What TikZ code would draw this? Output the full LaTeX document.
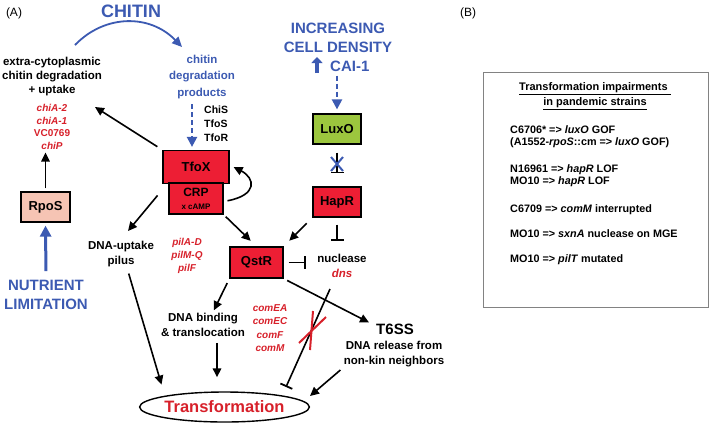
\documentclass[tikz,border=0pt]{standalone}
\usepackage{fontspec}
\setmainfont{Liberation Sans}
\usetikzlibrary{arrows.meta,shapes.geometric}
\definecolor{boxred}{RGB}{237,30,52}
\definecolor{genered}{RGB}{215,32,42}
\definecolor{myblue}{RGB}{60,90,178}
\definecolor{luxgreen}{RGB}{156,198,62}
\definecolor{rposfill}{RGB}{246,196,180}
\definecolor{boxgray}{RGB}{130,130,130}
\begin{document}
\begin{tikzpicture}[x=1pt,y=-1pt,
  prot/.style={draw=black, line width=1.2pt, inner sep=0pt, font=\bfseries\fontsize{13}{15}\selectfont},
  redbox/.style={prot, fill=boxred},
  lbl/.style={font=\bfseries\fontsize{11.5}{14.5}\selectfont, align=center, inner sep=1pt},
  genes/.style={font=\bfseries\itshape\fontsize{10}{13}\selectfont, text=genered, align=center, inner sep=1pt},
  bluelbl/.style={font=\bfseries\fontsize{15}{19}\selectfont, text=myblue, align=center, inner sep=1pt},
  arr/.style={draw=black, line width=1.6pt, -{Triangle[length=9pt,width=8.5pt]}},
  inh/.style={draw=black, line width=1.6pt, -{Bar[width=13pt,line width=1.8pt]}},
  bluearr/.style={draw=myblue, line width=1.8pt, -{Triangle[length=10pt,width=9pt]}},
  bluedash/.style={draw=myblue, line width=2.2pt, dash pattern=on 5pt off 3pt, -{Triangle[length=10pt,width=10pt]}},
  bigblue/.style={draw=myblue, line width=3pt, -{Triangle[length=11pt,width=11pt]}},
  redx/.style={draw=genered, line width=2pt},
  bluex/.style={draw=myblue, line width=2pt}
]
\useasboundingbox (0,0) rectangle (709,424);

% ---------- Panel A ----------
\node[font=\fontsize{12}{14}\selectfont, inner sep=1pt] (lblA) at (14,13) {(A)};
\node[bluelbl, font=\bfseries\fontsize{18}{20}\selectfont] (chitin) at (131,11) {CHITIN};

\node[lbl, font=\bfseries\fontsize{11.5}{14}\selectfont] (ecd) at (52,77) {extra-cytoplasmic\\chitin degradation\\+ uptake};
\node[genes, font=\bfseries\itshape\fontsize{10}{12.5}\selectfont] (chig) at (52,127) {chiA-2\\chiA-1\\{\upshape VC0769}\\chiP};

\node[lbl, text=myblue, font=\bfseries\fontsize{11.5}{16.5}\selectfont] (cdp) at (202,77) {chitin\\degradation\\products};
\node[lbl, anchor=west, align=left, font=\bfseries\fontsize{10.5}{14}\selectfont] (tfs) at (203,124) {ChiS\\TfoS\\TfoR};

\node[redbox, minimum width=66pt, minimum height=33pt] (tfox) at (196,167) {TfoX};
\node[redbox, minimum width=54pt, minimum height=31pt, align=center, font=\bfseries\fontsize{12}{13}\selectfont] (crp) at (196,198.5) {CRP\\{\fontsize{8}{10}\selectfont x cAMP}};

\node[prot, fill=rposfill, minimum width=49pt, minimum height=30pt] (rpos) at (45.5,207) {RpoS};
\node[bluelbl] (nutr) at (46,295) {NUTRIENT\\LIMITATION};

\node[bluelbl] (icd) at (338,38) {INCREASING\\CELL DENSITY};
\node[bluelbl, anchor=west] (cai) at (329,66) {CAI-1};
\coordinate (upA) at (317,73);
\coordinate (upB) at (317,57);
\draw[myblue, line width=4.5pt, -{Triangle[length=6pt,width=11pt]}] (upA) -- (upB);

\node[prot, fill=luxgreen, minimum width=48pt, minimum height=30pt] (luxo) at (337,129) {LuxO};
\node[redbox, minimum width=48pt, minimum height=30pt] (hapr) at (337,202) {HapR};
\node[redbox, minimum width=53pt, minimum height=31pt] (qstr) at (256.5,262.5) {QstR};

\node[lbl] (pilus) at (121,254) {DNA-uptake\\pilus};
\node[genes] (pilg) at (187,256) {pilA-D\\pilM-Q\\pilF};

\node[lbl, font=\bfseries\fontsize{11.5}{15}\selectfont] (dnab) at (203,325) {DNA binding\\\& translocation};
\node[genes, font=\bfseries\itshape\fontsize{10}{13.5}\selectfont] (comg) at (270,328) {comEA\\comEC\\comF\\comM};

\node[lbl, font=\bfseries\fontsize{11.5}{15}\selectfont] (nuc) at (342,266) {nuclease\\{\color{genered}\itshape dns}};

\node[lbl, font=\bfseries\fontsize{15}{17}\selectfont] (t6ss) at (395,329) {T6SS};
\node[lbl, font=\bfseries\fontsize{11.5}{15}\selectfont] (t6d) at (394,354) {DNA release from\\non-kin neighbors};

\node[ellipse, draw=black, line width=1.4pt, minimum width=163pt, minimum height=30pt, inner sep=0pt, text=genered, font=\bfseries\fontsize{16.5}{18}\selectfont] (trans) at (224.5,407) {Transformation};

% connectors
\coordinate (cs) at (75,45);
\coordinate (ce) at (182,47);
\draw[bluearr] (cs) .. controls (105,14) and (150,14) .. (ce);

\coordinate (ecdin) at (95,107);
\draw[arr, shorten <=6] (tfox.north west) -- (ecdin);
\draw[arr, shorten <=3, shorten >=2] (rpos.north) -- (rpos.north |- chig.south);
\draw[bigblue, shorten <=8, shorten >=3] (nutr.north) -- (rpos.south);
\draw[bluedash, shorten <=4, shorten >=3] ([xshift=-10pt]cdp.south) -- ([xshift=-4pt]tfox.north);
\draw[bluedash, shorten <=3, shorten >=4] (luxo.north |- cai.south) -- (luxo.north);

\draw[inh, shorten <=8, shorten >=13] (luxo.south) -- (hapr.north);
\coordinate (bx) at (337,164);
\draw[bluex] ([shift={(-6,-7)}]bx) -- ([shift={(6,7)}]bx);
\draw[bluex] ([shift={(-6,7)}]bx) -- ([shift={(6,-7)}]bx);

\draw[arr, shorten <=8, shorten >=8] (hapr.south west) -- (qstr.north east);
\draw[arr, shorten <=3, shorten >=8] (crp.south east) -- (qstr.north);
\draw[arr, shorten <=4] ([yshift=-3pt]crp.east) .. controls (258,195) and (255,178) .. ([xshift=4pt]tfox.east);

\coordinate (pilin) at (128,231);
\draw[arr, shorten <=17] (crp.north west) -- (pilin);
\draw[arr, shorten <=6, shorten >=7] ([xshift=6pt]pilus.south) -- ([xshift=-61pt]trans.north);

\draw[inh, shorten <=7, shorten >=12] (hapr.south) -- (hapr.south |- nuc.north);
\draw[inh, shorten <=5, shorten >=10] (qstr.east) -- (qstr.east -| nuc.west);

\draw[arr, shorten <=4] (qstr.south east) -- ([xshift=-6pt]t6ss.north west);
\draw[arr, shorten <=5, shorten >=2] (qstr.south west) -- ([xshift=10pt]dnab.north);
\coordinate (db) at ([xshift=14pt]dnab.south);
\draw[arr, shorten <=5, shorten >=14] (db) -- (db |- trans.north);

\coordinate (ns) at (330,289);
\coordinate (ne) at (286,387);
\draw[inh] (ns) -- (ne);
\coordinate (rx) at (312,330);
\draw[redx] ([shift={(1,-19)}]rx) -- ([shift={(-2,20)}]rx);
\draw[redx] ([shift={(-13,13)}]rx) -- ([shift={(14,-13)}]rx);

\coordinate (t6tip) at (310,396);
\draw[arr, shorten <=3] (t6d.south west) -- (t6tip);

% ---------- Panel B ----------
\node[font=\fontsize{12}{14}\selectfont, inner sep=1pt] (lblB) at (468,13) {(B)};
\node[draw=boxgray, line width=0.8pt, minimum width=225pt, minimum height=235pt, inner sep=0pt] (boxB) at (595.5,189.5) {};
\node[font=\bfseries\fontsize{11}{15}\selectfont, align=center, inner sep=1pt] (btitle) at (595,96) {\underline{Transformation impairments\ }\\\underline{in pandemic strains}};
\node[anchor=north west, align=left, inner sep=0pt, font=\bfseries\fontsize{10.8}{12.8}\selectfont] (blist) at (510,125) {C6706* => \textit{luxO} GOF\\(A1552-\textit{rpoS}::cm => \textit{luxO} GOF)\\[13.5pt]N16961 => \textit{hapR} LOF\\MO10 => \textit{hapR} LOF\\[14.5pt]C6709 => \textit{comM} interrupted\\[12.5pt]MO10 => \textit{sxnA} nuclease on MGE\\[12.5pt]MO10 => \textit{pilT} mutated};
\end{tikzpicture}
\end{document}
